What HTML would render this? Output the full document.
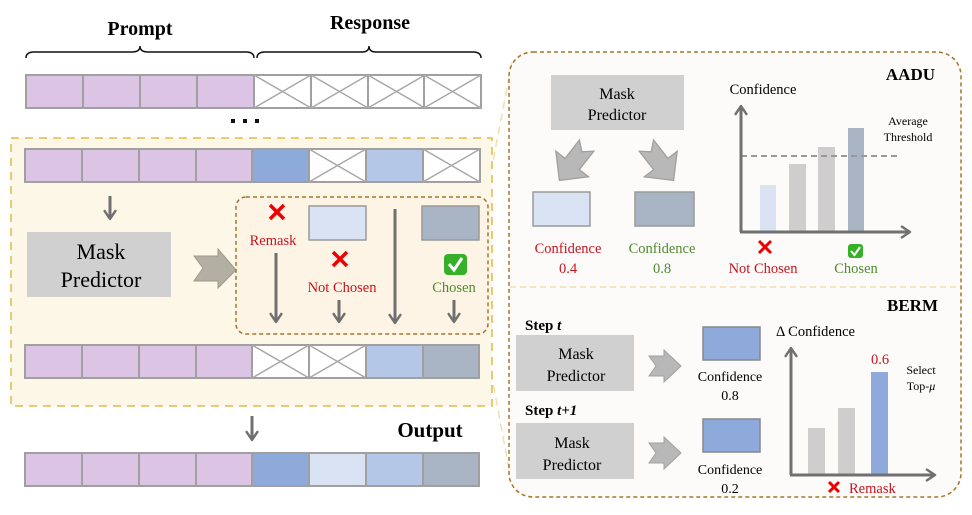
<!DOCTYPE html>
<html><head><meta charset="utf-8"><style>
html,body{margin:0;padding:0;background:#fff;}
svg{display:block;}
text{font-family:"Liberation Serif",serif;}
</style></head><body>
<svg width="972" height="515" viewBox="0 0 972 515" xmlns="http://www.w3.org/2000/svg">
<defs>
<marker id="ah" viewBox="0 0 10 10" refX="8" refY="5" markerWidth="4.5" markerHeight="4.5" orient="auto" markerUnits="strokeWidth">
<path d="M2,1 L8,5 L2,9" fill="none" stroke="#707070" stroke-width="1.8" stroke-linecap="round" stroke-linejoin="round"/>
</marker>
<g id="mx"><rect width="57" height="33" fill="#fff" stroke="#a0a0a0" stroke-width="2"/><path d="M0,0 L57,33 M57,0 L0,33" stroke="#a8a8a8" stroke-width="1.5"/></g>
<g id="pp"><rect width="57" height="33" fill="#dcc4e4" stroke="#a0a0a0" stroke-width="2"/></g>
<polygon id="bigarr" points="-17,-7 1,-7 1,-16 17,0 1,16 1,7 -17,7 -11,0" fill="#b8b8b8" stroke="#a0a0a0"/>
</defs>

<!-- header -->
<text x="140" y="35" font-size="20" font-weight="bold" text-anchor="middle">Prompt</text>
<text x="370" y="29" font-size="20" font-weight="bold" text-anchor="middle">Response</text>
<path d="M26,58 Q26,52 34,52 L132,52 Q140,52 140,46 Q140,52 148,52 L246,52 Q254,52 254,58" fill="none" stroke="#111" stroke-width="1.5"/>
<path d="M257,58 Q257,52 265,52 L362,52 Q369,52 369,46 Q369,52 376,52 L473,52 Q481,52 481,58" fill="none" stroke="#111" stroke-width="1.5"/>

<!-- row 1 -->
<use href="#pp" x="26" y="75"/><use href="#pp" x="83" y="75"/><use href="#pp" x="140" y="75"/><use href="#pp" x="197" y="75"/>
<use href="#mx" x="254" y="75"/><use href="#mx" x="311" y="75"/><use href="#mx" x="368" y="75"/><use href="#mx" x="424" y="75"/>
<rect x="231" y="119" width="4" height="4" fill="#111"/><rect x="243" y="119" width="4" height="4" fill="#111"/><rect x="255" y="119" width="4" height="4" fill="#111"/>

<!-- connector lines -->
<path d="M486,198 L512,62" stroke="#f0dfb0" stroke-width="1.5" stroke-dasharray="8,5"/>
<path d="M484,334 L512,485" stroke="#f0dfb0" stroke-width="1.5" stroke-dasharray="8,5"/>

<!-- yellow box -->
<rect x="11" y="138" width="481" height="268" fill="#fdf7e8" stroke="#e2b84a" stroke-width="1.5" stroke-dasharray="8,6"/>
<use href="#pp" x="25" y="149"/><use href="#pp" x="82" y="149"/><use href="#pp" x="139" y="149"/><use href="#pp" x="196" y="149"/>
<rect x="252" y="149" width="57" height="33" fill="#8eaadb" stroke="#a0a0a0" stroke-width="2"/>
<use href="#mx" x="309" y="149"/>
<rect x="366" y="149" width="57" height="33" fill="#b4c7e7" stroke="#a0a0a0" stroke-width="2"/>
<use href="#mx" x="423" y="149"/>

<line x1="110" y1="196" x2="110" y2="219" stroke="#707070" stroke-width="3" marker-end="url(#ah)"/>
<rect x="27" y="232" width="144" height="65" fill="#d0d0d0"/>
<text x="101" y="259" font-size="22" text-anchor="middle">Mask</text>
<text x="101" y="287" font-size="22" text-anchor="middle">Predictor</text>
<polygon points="194,256 218,256 218,249 236,270 218,288 218,281 194,281 203,268" fill="#b3afa2" stroke="#9c998d" stroke-width="1"/>

<rect x="236" y="197" width="252" height="137" rx="10" fill="#fdf4e6" stroke="#a8742a" stroke-width="1.5" stroke-dasharray="4,3"/>
<path d="M270,205 L284,219 M284,205 L270,219" stroke="#e00" stroke-width="3.5"/>
<text x="273" y="245" font-size="14.5" fill="#c8141e" text-anchor="middle">Remask</text>
<rect x="309" y="206" width="57" height="34" fill="#dae3f3" stroke="#999" stroke-width="1.5"/>
<rect x="422" y="206" width="57" height="34" fill="#a9b4c5" stroke="#999" stroke-width="1.5"/>
<path d="M333,252 L347,266 M347,252 L333,266" stroke="#e00" stroke-width="3.5"/>
<text x="342" y="292" font-size="14.5" fill="#c8141e" text-anchor="middle">Not Chosen</text>
<rect x="444" y="254" width="23" height="21" rx="4" fill="#35b028"/>
<path d="M449,264 L454,270 L462,258" fill="none" stroke="#fff" stroke-width="3"/>
<text x="454" y="292" font-size="14.5" fill="#4e8c2e" text-anchor="middle">Chosen</text>
<line x1="276" y1="253" x2="276" y2="322" stroke="#707070" stroke-width="3" marker-end="url(#ah)"/>
<line x1="339" y1="300" x2="339" y2="322" stroke="#707070" stroke-width="3" marker-end="url(#ah)"/>
<line x1="395" y1="209" x2="395" y2="323" stroke="#707070" stroke-width="3" marker-end="url(#ah)"/>
<line x1="454" y1="300" x2="454" y2="322" stroke="#707070" stroke-width="3" marker-end="url(#ah)"/>

<use href="#pp" x="25" y="345"/><use href="#pp" x="82" y="345"/><use href="#pp" x="139" y="345"/><use href="#pp" x="196" y="345"/>
<use href="#mx" x="252" y="345"/><use href="#mx" x="309" y="345"/>
<rect x="366" y="345" width="57" height="33" fill="#b4c7e7" stroke="#a0a0a0" stroke-width="2"/>
<rect x="423" y="345" width="56" height="33" fill="#a9b4c5" stroke="#a0a0a0" stroke-width="2"/>

<!-- output -->
<line x1="252" y1="416" x2="252" y2="440" stroke="#707070" stroke-width="3" marker-end="url(#ah)"/>
<text x="430" y="437" font-size="21" font-weight="bold" text-anchor="middle">Output</text>
<use href="#pp" x="25" y="453"/><use href="#pp" x="82" y="453"/><use href="#pp" x="139" y="453"/><use href="#pp" x="196" y="453"/>
<rect x="252" y="453" width="57" height="33" fill="#8eaadb" stroke="#a0a0a0" stroke-width="2"/>
<rect x="309" y="453" width="57" height="33" fill="#dae3f3" stroke="#a0a0a0" stroke-width="2"/>
<rect x="366" y="453" width="57" height="33" fill="#b4c7e7" stroke="#a0a0a0" stroke-width="2"/>
<rect x="423" y="453" width="56" height="33" fill="#a9b4c5" stroke="#a0a0a0" stroke-width="2"/>

<!-- right panel -->
<rect x="509" y="52" width="452" height="445" rx="24" fill="#fcfbf9" stroke="#a8742a" stroke-width="1.5" stroke-dasharray="4,3"/>
<line x1="510" y1="287" x2="960" y2="287" stroke="#f0dfb0" stroke-width="1.5" stroke-dasharray="6,4"/>

<!-- AADU -->
<text x="935" y="80" font-size="17" font-weight="bold" text-anchor="end">AADU</text>
<rect x="551" y="75" width="133" height="55" fill="#d0d0d0"/>
<text x="617" y="99" font-size="16" text-anchor="middle">Mask</text>
<text x="617" y="120" font-size="16" text-anchor="middle">Predictor</text>
<use href="#bigarr" transform="translate(573,163) rotate(128) scale(1.3)"/>
<use href="#bigarr" transform="translate(660,163) rotate(52) scale(1.3)"/>
<rect x="533" y="192" width="57" height="34" fill="#dae3f3" stroke="#999" stroke-width="1.5"/>
<rect x="635" y="192" width="59" height="34" fill="#a9b4c5" stroke="#999" stroke-width="1.5"/>
<text x="568" y="253" font-size="14.5" fill="#c8141e" text-anchor="middle">Confidence</text>
<text x="568" y="273" font-size="14.5" fill="#c8141e" text-anchor="middle">0.4</text>
<text x="662" y="253" font-size="14.5" fill="#4e8c2e" text-anchor="middle">Confidence</text>
<text x="662" y="273" font-size="14.5" fill="#4e8c2e" text-anchor="middle">0.8</text>
<text x="763" y="94" font-size="14.5" text-anchor="middle">Confidence</text>
<rect x="760" y="185" width="16" height="47" fill="#dae3f3"/>
<rect x="789" y="164" width="17" height="68" fill="#cfcdcd"/>
<rect x="818" y="147" width="17" height="85" fill="#cfcdcd"/>
<rect x="848" y="128" width="16" height="104" fill="#a9b4c5"/>
<line x1="741" y1="156" x2="900" y2="156" stroke="#999" stroke-width="2" stroke-dasharray="6,4"/>
<line x1="741" y1="232" x2="741" y2="106" stroke="#707070" stroke-width="3" marker-end="url(#ah)"/>
<line x1="740" y1="232" x2="910" y2="232" stroke="#707070" stroke-width="3" marker-end="url(#ah)"/>
<text x="908" y="125" font-size="12" text-anchor="middle">Average</text>
<text x="908" y="141" font-size="12" text-anchor="middle">Threshold</text>
<path d="M759,241 L771,253 M771,241 L759,253" stroke="#e00" stroke-width="3"/>
<text x="763" y="273" font-size="14.5" fill="#c8141e" text-anchor="middle">Not Chosen</text>
<rect x="848" y="244" width="15" height="14" rx="3" fill="#35b028"/>
<path d="M851,251 L854.5,255 L860,247" fill="none" stroke="#fff" stroke-width="2"/>
<text x="856" y="273" font-size="14.5" fill="#4e8c2e" text-anchor="middle">Chosen</text>

<!-- BERM -->
<text x="938" y="311" font-size="17" font-weight="bold" text-anchor="end">BERM</text>
<text x="525" y="330" font-size="15" font-weight="bold" font-family="Liberation Sans, sans-serif">Step <tspan font-style="italic">t</tspan></text>
<rect x="516" y="335" width="118" height="56" fill="#d0d0d0"/>
<text x="576" y="359" font-size="16" text-anchor="middle">Mask</text>
<text x="576" y="381" font-size="16" text-anchor="middle">Predictor</text>
<text x="525" y="415" font-size="15" font-weight="bold" font-family="Liberation Sans, sans-serif">Step <tspan font-style="italic">t+1</tspan></text>
<rect x="516" y="423" width="118" height="56" fill="#d0d0d0"/>
<text x="572" y="448" font-size="16" text-anchor="middle">Mask</text>
<text x="572" y="470" font-size="16" text-anchor="middle">Predictor</text>
<polygon points="649,356 664,356 664,350 681,366 664,382 664,376 649,376 656,366" fill="#b8b8b8" stroke="#a0a0a0"/>
<polygon points="649,443 664,443 664,437 681,453 664,469 664,463 649,463 656,453" fill="#b8b8b8" stroke="#a0a0a0"/>
<rect x="703" y="327" width="57" height="33" fill="#8eaadb" stroke="#888" stroke-width="1.5"/>
<rect x="703" y="419" width="57" height="33" fill="#8eaadb" stroke="#888" stroke-width="1.5"/>
<text x="730" y="381" font-size="14" text-anchor="middle">Confidence</text>
<text x="730" y="400" font-size="14" text-anchor="middle">0.8</text>
<text x="730" y="474" font-size="14" text-anchor="middle">Confidence</text>
<text x="730" y="493" font-size="14" text-anchor="middle">0.2</text>
<text x="776" y="336" font-size="14.5">Δ Confidence</text>
<rect x="808" y="428" width="17" height="47" fill="#cfcdcd"/>
<rect x="838" y="408" width="17" height="67" fill="#cfcdcd"/>
<rect x="871" y="372" width="17" height="103" fill="#8eaadb"/>
<line x1="791" y1="475" x2="791" y2="348" stroke="#707070" stroke-width="3" marker-end="url(#ah)"/>
<line x1="790" y1="475" x2="935" y2="475" stroke="#707070" stroke-width="3" marker-end="url(#ah)"/>
<text x="880" y="364" font-size="14.5" fill="#c8141e" text-anchor="middle">0.6</text>
<text x="921" y="374" font-size="12" text-anchor="middle">Select</text>
<text x="921" y="390" font-size="12" text-anchor="middle">Top-<tspan font-style="italic">μ</tspan></text>
<path d="M829,482 L839,492 M839,482 L829,492" stroke="#e00" stroke-width="3"/>
<text x="849" y="493" font-size="14.5" fill="#c8141e">Remask</text>
</svg>
</body></html>
